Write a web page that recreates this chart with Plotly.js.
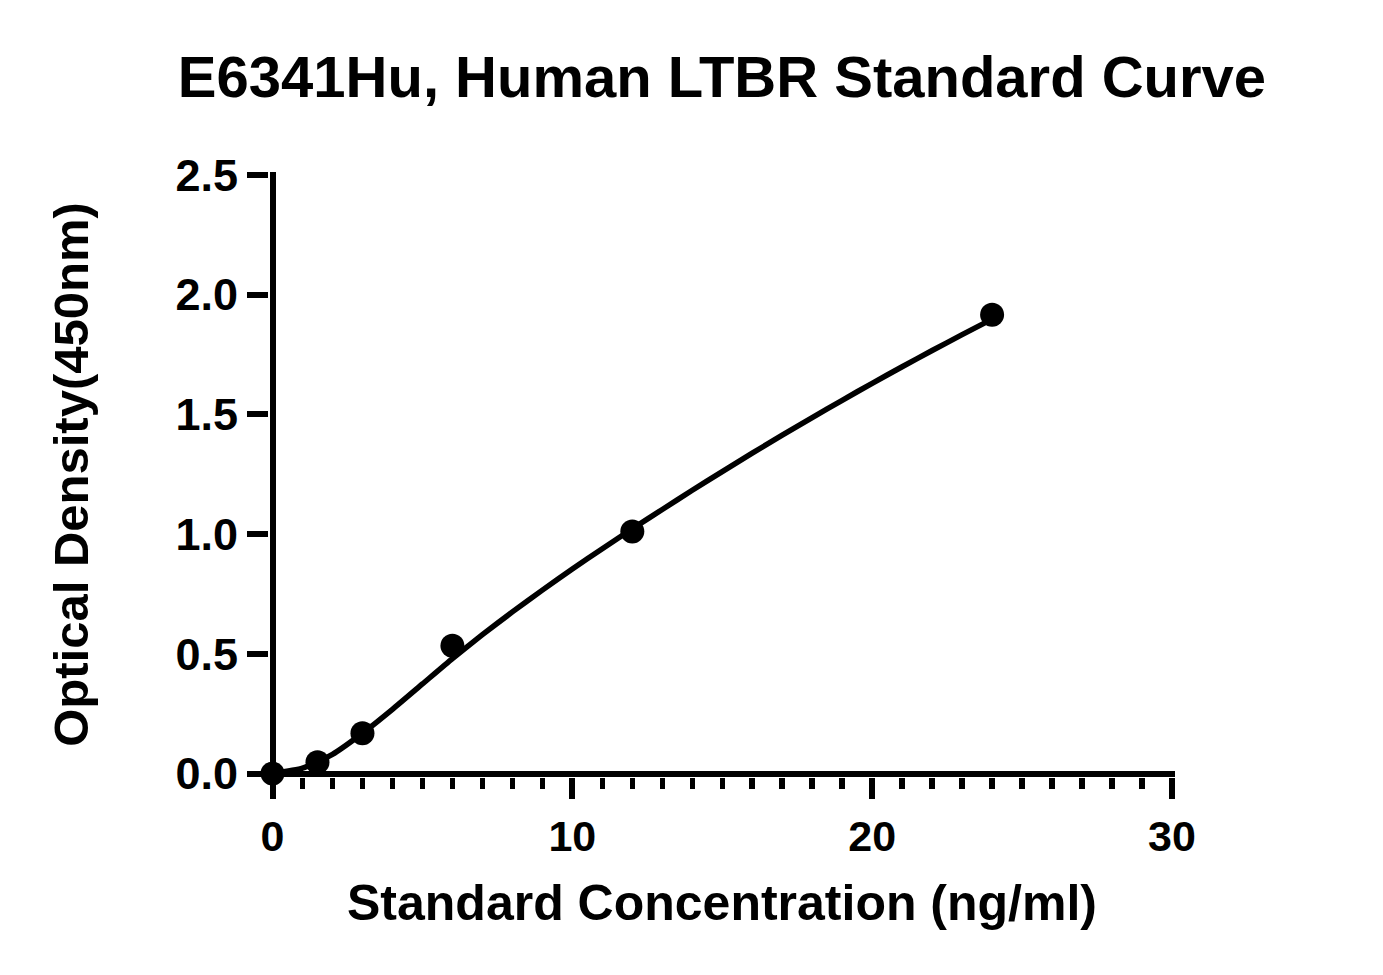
<!DOCTYPE html>
<html>
<head>
<meta charset="utf-8">
<script src="https://cdn.plot.ly/plotly-3.0.1.min.js"></script>
<style>html,body{margin:0;padding:0;background:#fff;}#chart{width:1383px;height:975px;}</style>
</head>
<body>
<div id="chart"></div>
<script>
// Standard points
const concentration = [0, 1.5, 3, 6, 12, 24];
const opticalDensity = [0.000, 0.047, 0.168, 0.534, 1.011, 1.916];

// Fitted curve
const curveX = [0, 1, 2, 3, 4, 5, 6, 7, 8, 9, 10, 11, 12, 13, 14, 15, 16, 17, 18, 19, 20, 21, 22, 23, 24];
const curveY = [0.000, 0.022, 0.080, 0.168, 0.268, 0.374, 0.480, 0.580, 0.675, 0.766, 0.854, 0.939, 1.022, 1.103, 1.183, 1.261, 1.338, 1.413, 1.487, 1.559, 1.630, 1.699, 1.767, 1.833, 1.898];

const xTicks = [0, 10, 20, 30];
const yTicks = [0, 0.5, 1.0, 1.5, 2.0, 2.5];
const yTickText = ['0.0', '0.5', '1.0', '1.5', '2.0', '2.5'];

const FONT = 'Liberation Sans, Arial, Helvetica, sans-serif';

const traces = [
  {
    x: curveX, y: curveY, mode: 'lines', type: 'scatter',
    line: {color: '#000', width: 5.5, shape: 'spline', smoothing: 0.5},
    hoverinfo: 'skip', showlegend: false, cliponaxis: false
  },
  {
    x: concentration, y: opticalDensity, mode: 'markers', type: 'scatter',
    marker: {color: '#000', size: 24, symbol: 'circle'},
    showlegend: false, cliponaxis: false
  }
];

const layout = {
  width: 1383, height: 975,
  paper_bgcolor: '#fff', plot_bgcolor: '#fff',
  margin: {l: 269, r: 208, t: 172, b: 198, pad: 0},
  showlegend: false,
  title: {
    text: 'E6341Hu, Human LTBR Standard Curve',
    font: {family: FONT, size: 58, color: '#000', weight: 700},
    x: 0.5, xref: 'paper', xanchor: 'center',
    y: 0.921, yref: 'container', yanchor: 'middle'
  },
  xaxis: {
    range: [-0.117, 30.1], tickvals: xTicks, ticktext: xTicks.map(String),
    showgrid: false, showline: false,
    zeroline: true, zerolinecolor: '#000', zerolinewidth: 6,
    ticks: 'outside', ticklen: 21, tickwidth: 6, tickcolor: '#000',
    minor: {dtick: 1, tick0: 0, ticks: 'outside', ticklen: 11, tickwidth: 5.5, tickcolor: '#000', showgrid: false},
    tickfont: {family: FONT, size: 43, color: '#000', weight: 700},
    title: {text: 'Standard Concentration (ng/ml)', font: {family: FONT, size: 50, color: '#000', weight: 700}, standoff: 26},
    fixedrange: true, automargin: false
  },
  yaxis: {
    range: [-0.0146, 2.5125], tickvals: yTicks, ticktext: yTickText,
    showgrid: false, showline: false,
    zeroline: true, zerolinecolor: '#000', zerolinewidth: 6,
    ticks: 'outside', ticklen: 21, tickwidth: 6, tickcolor: '#000',
    tickfont: {family: FONT, size: 45, color: '#000', weight: 700},
    title: {text: 'Optical Density(450nm)', font: {family: FONT, size: 49, color: '#000', weight: 700}, standoff: 71},
    fixedrange: true, automargin: false
  }
};

Plotly.newPlot('chart', traces, layout, {displayModeBar: false, staticPlot: true});
</script>
</body>
</html>
